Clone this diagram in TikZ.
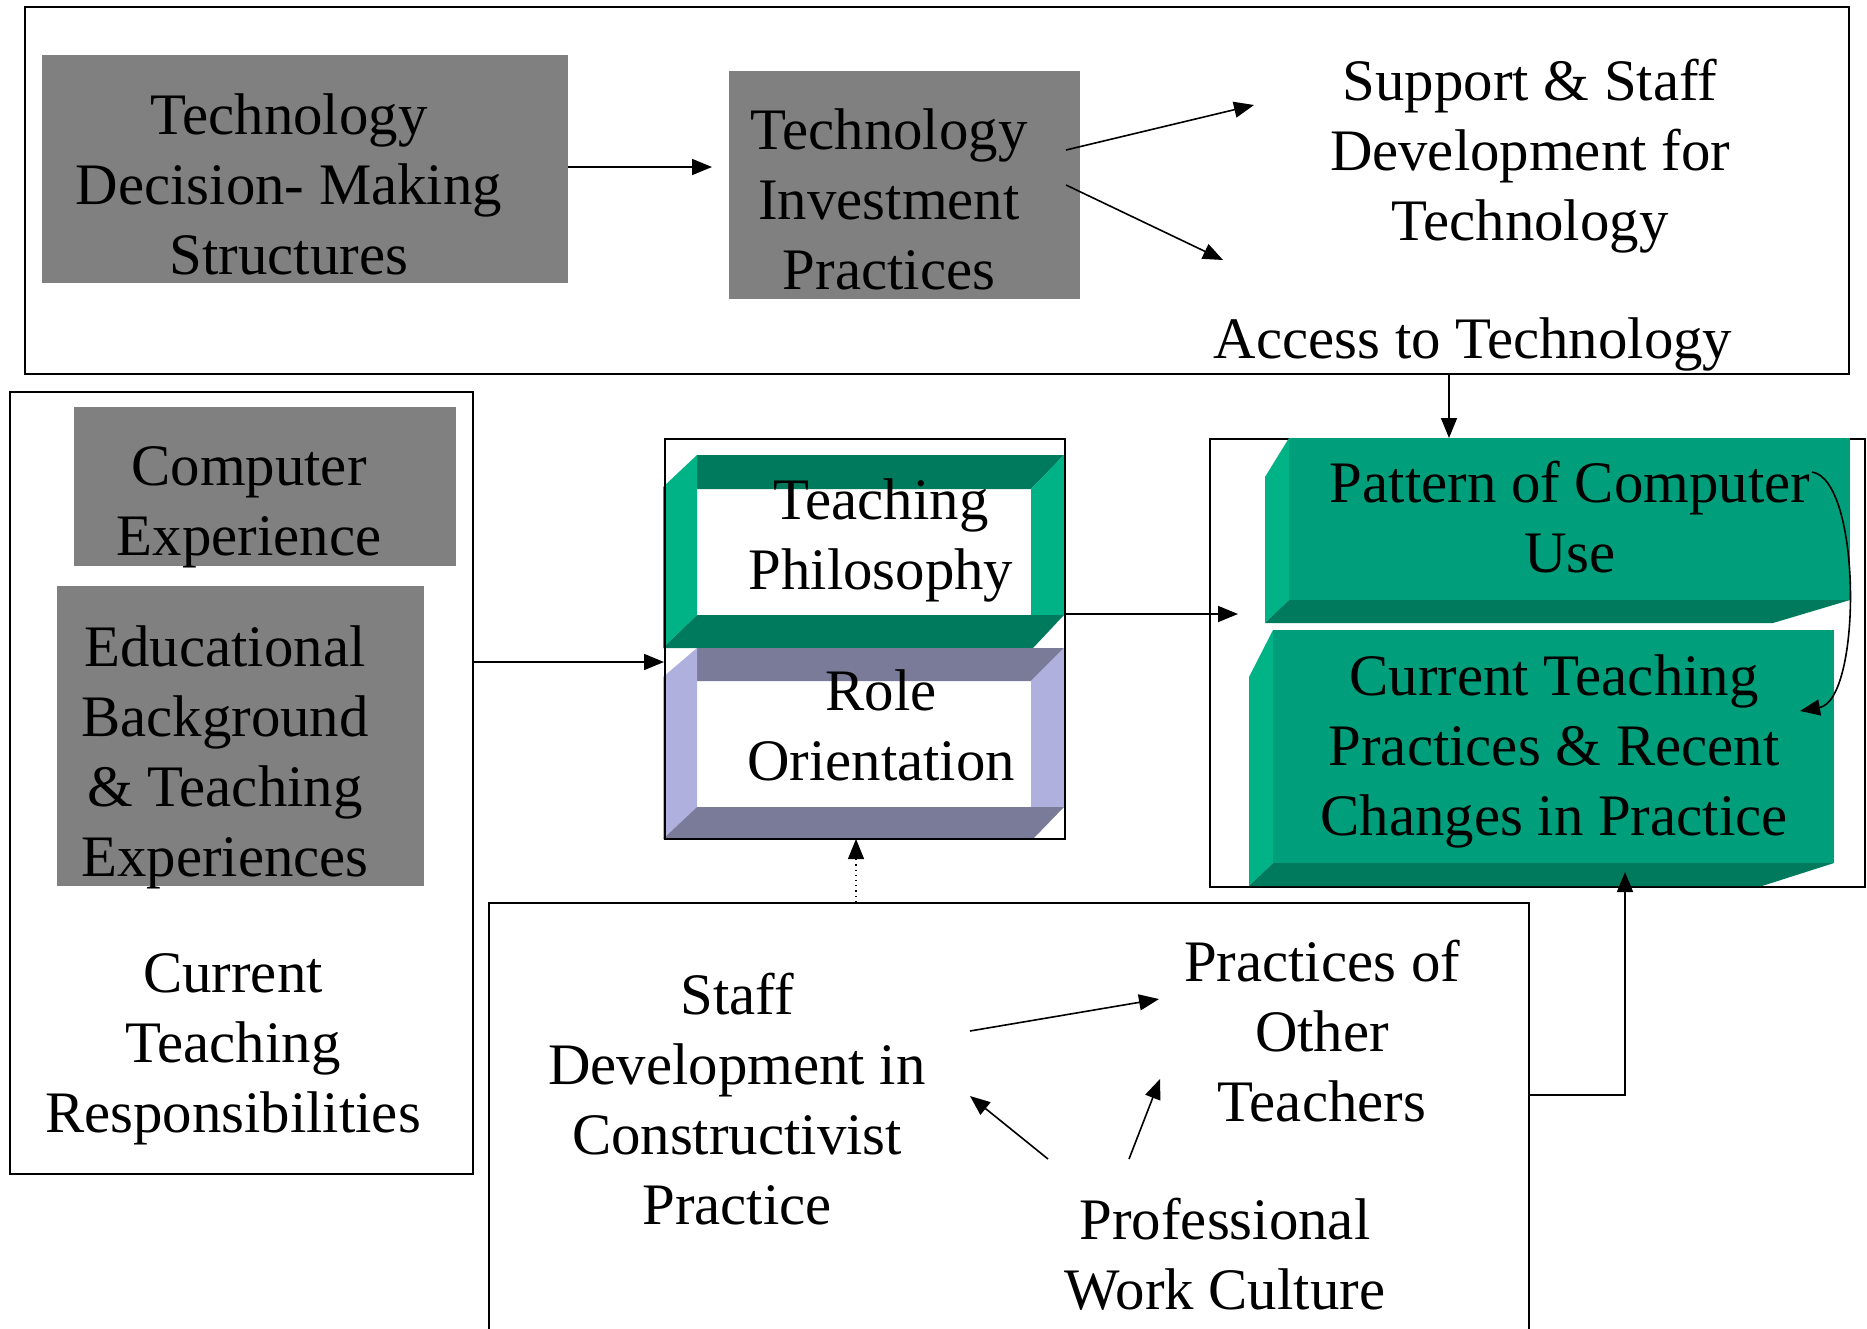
\documentclass[tikz,border=0pt]{standalone}
\usepackage{fontspec}
\setmainfont{Liberation Serif}
\usetikzlibrary{arrows.meta}
\definecolor{boxgrey}{RGB}{128,128,128}
\definecolor{gfront}{RGB}{0,158,122}
\definecolor{glight}{RGB}{0,179,134}
\definecolor{gdark}{RGB}{0,122,92}
\definecolor{plight}{RGB}{176,176,222}
\definecolor{pdark}{RGB}{122,122,153}
\begin{document}
\begin{tikzpicture}[x=0.5pt,y=-0.5pt,
  txt/.style={align=center,font=\fontsize{29.4}{35}\selectfont,inner sep=0pt},
  frame/.style={draw=black,line width=1pt},
  greybox/.style={fill=boxgrey},
  arr/.style={-{Triangle[length=10pt,width=8pt]},line width=0.8pt},
  conn/.style={line width=0.8pt}]
\useasboundingbox (0,0) rectangle (1867,1328);
\clip (0,0) rectangle (1867,1328);
\fill[white] (0,0) rectangle (1867,1328);

% ---------- top panel ----------
\draw[frame] (25,7) rectangle (1849,374);
\fill[greybox] (42,55) rectangle (568,283);
\fill[greybox] (729,71) rectangle (1080,299);
\node[txt] (tdm) at (289,184) {Technology\\Decision- Making\\Structures};
\node[txt] (tip) at (889,199) {Technology\\Investment\\Practices};
\node[txt] (ssd) at (1530,156) {Support \& Staff\\Development for\\Technology};
\node[txt] (acc) at (1473,344) {Access to Technology};

\coordinate (a1s) at (568,167);
\coordinate (a1e) at (712,167);
\coordinate (a2s) at (1066,150);
\coordinate (a2e) at (1254,105);
\coordinate (a3s) at (1066,185);
\coordinate (a3e) at (1223,260);
\draw[arr] (a1s) -- (a1e);
\draw[arr] (a2s) -- (a2e);
\draw[arr] (a3s) -- (a3e);

% ---------- left panel ----------
\draw[frame] (10,392) rectangle (473,1174);
\fill[greybox] (74,407) rectangle (456,566);
\fill[greybox] (57,586) rectangle (424,886);
\node[txt] (cex) at (249,507) {Computer\\Experience};
\node[txt] (edu) at (225,757) {Educational\\Background\\\& Teaching\\Experiences};
\node[txt] (ctr) at (233,1049) {Current\\Teaching\\Responsibilities};

% ---------- middle panel ----------
% Teaching Philosophy bevel
\fill[gdark] (697,455) -- (1064,455) -- (1031,489) -- (697,489) -- cycle;
\fill[glight] (663,487) -- (697,455) -- (697,615) -- (663,648) -- cycle;
\fill[glight] (1031,489) -- (1064,455) -- (1064,615) -- (1031,615) -- cycle;
\fill[gdark] (663,648) -- (697,615) -- (1064,615) -- (1033,648) -- cycle;
% Role Orientation bevel
\fill[pdark] (697,648) -- (1064,648) -- (1031,681) -- (697,681) -- cycle;
\fill[plight] (663,677) -- (697,648) -- (697,807) -- (663,839) -- cycle;
\fill[plight] (1031,681) -- (1064,648) -- (1064,807) -- (1031,807) -- cycle;
\fill[pdark] (663,839) -- (697,807) -- (1064,807) -- (1033,839) -- cycle;
\draw[frame] (665,439) rectangle (1065,839);
\node[txt] (tph) at (881,540) {Teaching\\Philosophy};
\node[txt] (rol) at (881,725) {Role\\Orientation};

\coordinate (a4s) at (473,662);
\coordinate (a4e) at (664,662);
\draw[conn,-{Triangle[length=10pt,width=8pt]}] (a4s) -- (a4e);
\coordinate (a5s) at (1065,614);
\coordinate (a5e) at (1238,614);
\draw[arr] (a5s) -- (a5e);

% ---------- right panel ----------
\draw[frame] (1210,439) rectangle (1865,887);
% Pattern of Computer Use
\fill[gfront] (1289,438) rectangle (1850,600);
\fill[glight] (1265,477) -- (1289,438) -- (1289,600) -- (1265,623) -- cycle;
\fill[gdark] (1265,623) -- (1289,600) -- (1850,600) -- (1773,623) -- cycle;
% Current Teaching Practices
\fill[gfront] (1273,630) rectangle (1834,863);
\fill[glight] (1249,677) -- (1273,630) -- (1273,863) -- (1249,886) -- cycle;
\fill[gdark] (1249,886) -- (1273,863) -- (1834,863) -- (1762,886) -- cycle;
\node[txt] (pcu) at (1570,517) {Pattern of Computer\\Use};
\node[txt] (ctp) at (1554,751) {Current Teaching\\Practices \& Recent\\Changes in Practice};

\coordinate (a6s) at (1449,375);
\coordinate (a6e) at (1449,438);
\draw[arr] (a6s) -- (a6e);
\coordinate (c1) at (1812,472);
\coordinate (c2) at (1800,711);
\draw[arr] (c1) .. controls (1862,480) and (1862,700) .. (c2);

% ---------- bottom panel ----------
\draw[frame] (489,903) rectangle (1529,1345);
\node[txt] (sdc) at (737,1099) {Staff\\Development in\\Constructivist\\Practice};
\node[txt] (pot) at (1322,1031) {Practices of\\Other\\Teachers};
\node[txt] (pwc) at (1225,1254) {Professional\\Work Culture};

\coordinate (a7s) at (970,1031);
\coordinate (a7e) at (1159,999);
\coordinate (a8s) at (1048,1159);
\coordinate (a8e) at (970,1096);
\coordinate (a9s) at (1129,1159);
\coordinate (a9e) at (1160,1079);
\draw[arr] (a7s) -- (a7e);
\draw[arr] (a8s) -- (a8e);
\draw[arr] (a9s) -- (a9e);

\coordinate (d1s) at (856,902);
\coordinate (d1e) at (856,839);
\draw[dotted,line width=0.6pt,-{Triangle[length=10pt,width=8pt]}] (d1s) -- (d1e);
\coordinate (r1s) at (1529,1095);
\coordinate (r1m) at (1625,1095);
\coordinate (r1e) at (1625,872);
\draw[arr] (r1s) -- (r1m) -- (r1e);
\end{tikzpicture}
\end{document}
